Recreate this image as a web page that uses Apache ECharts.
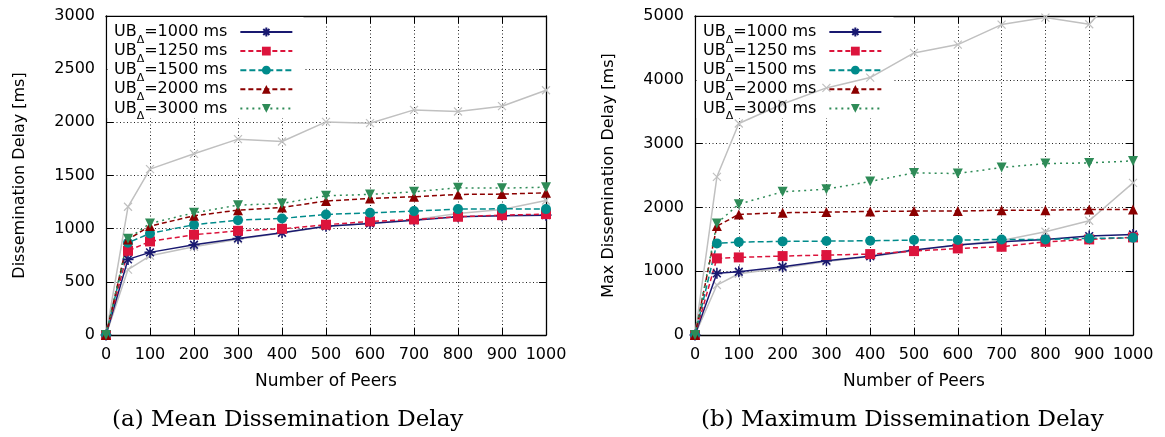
<!DOCTYPE html>
<html>
<head>
<meta charset="utf-8">
<script src="https://cdn.jsdelivr.net/npm/echarts@6/dist/echarts.min.js"></script>
<style>
  html, body { margin: 0; padding: 0; background: #fff; }
  #chart { width: 1165px; height: 437px; }
</style>
</head>
<body>
<div id="chart"></div>
<script>
// Network sizes (x axis) and update-budget settings
const peers = [0, 50, 100, 200, 300, 400, 500, 600, 700, 800, 900, 1000];
const budgets = [1000, 1250, 1500, 2000, 3000];

// (a) Mean dissemination delay [ms]
const mean1000 = [0, 711, 777, 849, 908, 961, 1022, 1049, 1080, 1112, 1121, 1127];
const mean1250 = [0, 792, 880, 943, 980, 999, 1037, 1068, 1087, 1112, 1127, 1137];
const mean1500 = [0, 868, 955, 1037, 1080, 1096, 1134, 1149, 1165, 1184, 1187, 1184];
const mean2000 = [0, 899, 1024, 1121, 1174, 1199, 1260, 1284, 1300, 1322, 1325, 1337];
const mean3000 = [0, 905, 1049, 1149, 1221, 1237, 1309, 1322, 1347, 1384, 1381, 1390];
const meanBaseHigh = [0, 1206, 1560, 1704, 1842, 1820, 2004, 1992, 2117, 2102, 2152, 2302];
const meanBaseLow = [0, 615, 745, 830, 900, 960, 1020, 1050, 1085, 1143, 1181, 1265];

// (b) Maximum dissemination delay [ms]
const max1000 = [0, 966, 992, 1070, 1164, 1235, 1331, 1409, 1461, 1498, 1550, 1576];
const max1250 = [0, 1201, 1216, 1237, 1253, 1268, 1315, 1357, 1383, 1461, 1498, 1530];
const max1500 = [0, 1436, 1456, 1467, 1472, 1477, 1488, 1488, 1498, 1498, 1514, 1524];
const max2000 = [0, 1707, 1890, 1916, 1926, 1937, 1942, 1942, 1957, 1957, 1968, 1968];
const max3000 = [0, 1749, 2051, 2244, 2286, 2406, 2541, 2531, 2625, 2687, 2697, 2729];
const maxBaseHigh = [0, 2479, 3315, 3620, 3873, 4035, 4421, 4552, 4865, 4975, 4870, 5620];
const maxBaseLow = [0, 783, 960, 1050, 1150, 1230, 1320, 1410, 1480, 1618, 1790, 2385];

const yTitles = ['Dissemination Delay [ms]', 'Max Dissemination Delay [ms]'];
const xTitle = 'Number of Peers';
const captions = ['(a) Mean Dissemination Delay', '(b) Maximum Dissemination Delay'];

const FONT = 'DejaVu Sans';
const ASTERISK = 'path://M0,5L10,5M5,0L5,10M1.5,1.5L8.5,8.5M8.5,1.5L1.5,8.5';
const CROSS = 'path://M0,0L10,10M10,0L0,10';

const budgetStyles = {
  1000: { color: '#191970', dash: 'solid', symbol: ASTERISK, size: 11, rotate: 0, border: 1.6 },
  1250: { color: '#dc143c', dash: [5, 3], symbol: 'rect', size: 10, rotate: 0, border: 0 },
  1500: { color: '#008b8b', dash: [6, 3], symbol: 'circle', size: 10, rotate: 0, border: 0 },
  2000: { color: '#8b0000', dash: [5, 3], symbol: 'triangle', size: 10, rotate: 0, border: 0 },
  3000: { color: '#2e8b57', dash: [2, 4], symbol: 'triangle', size: 10, rotate: 180, border: 0 }
};

const seriesName = b => 'UBΔ=' + b + ' ms';
const pairs = v => peers.map((p, i) => [p, v[i]]);

function budgetSeries(b, values, gi) {
  const s = budgetStyles[b];
  return {
    name: seriesName(b), type: 'line', xAxisIndex: gi * 2, yAxisIndex: gi * 2,
    data: pairs(values), symbol: s.symbol, symbolSize: s.size, symbolRotate: s.rotate,
    showSymbol: true, z: 3,
    lineStyle: { color: s.color, width: 1.5, type: s.dash },
    itemStyle: { color: s.color, borderColor: s.color, borderWidth: s.border }
  };
}
function baseSeries(name, values, gi) {
  return {
    name: name, type: 'line', xAxisIndex: gi * 2, yAxisIndex: gi * 2,
    data: pairs(values), symbol: CROSS, symbolSize: 8, z: 2,
    lineStyle: { color: '#c0c0c0', width: 1.5 },
    itemStyle: { color: '#c0c0c0', borderColor: '#c0c0c0', borderWidth: 1.2 }
  };
}

const gridPos = [
  { left: 106, top: 16, width: 440, height: 319 },
  { left: 695, top: 16, width: 438, height: 319 }
];
const yRange = [{ max: 3000, interval: 500 }, { max: 5000, interval: 1000 }];

const tick = { show: true, inside: true, length: 7, lineStyle: { color: '#000', width: 1 } };
const axisLine = { show: true, onZero: false, lineStyle: { color: '#000', width: 1.3 } };
const gridLine = { show: true, lineStyle: { color: '#222', width: 1, type: [1, 2.5] } };
const plain = v => String(v);

const xAxes = [], yAxes = [], series = [], legends = [], graphics = [], titles = [];
[0, 1].forEach(gi => {
  xAxes.push({
    type: 'value', gridIndex: gi, min: 0, max: 1000, interval: 100, position: 'bottom',
    axisLine, axisTick: tick, splitLine: gridLine,
    axisLabel: { fontFamily: FONT, fontSize: 16, color: '#000', margin: 12, formatter: plain },
    name: xTitle, nameLocation: 'middle', nameGap: 38,
    nameTextStyle: { fontFamily: FONT, fontSize: 17, color: '#000' }
  });
  xAxes.push({
    type: 'value', gridIndex: gi, min: 0, max: 1000, interval: 100, position: 'top',
    axisLine, axisTick: tick, splitLine: { show: false }, axisLabel: { show: false }
  });
  yAxes.push({
    type: 'value', gridIndex: gi, min: 0, max: yRange[gi].max, interval: yRange[gi].interval,
    position: 'left', axisLine, axisTick: tick, splitLine: gridLine,
    axisLabel: { fontFamily: FONT, fontSize: 16, color: '#000', margin: 11, formatter: plain },
    name: yTitles[gi], nameLocation: 'middle', nameRotate: 90, nameGap: 78,
    nameTextStyle: { fontFamily: FONT, fontSize: 16, color: '#000' }
  });
  yAxes.push({
    type: 'value', gridIndex: gi, min: 0, max: yRange[gi].max, interval: yRange[gi].interval,
    position: 'right', axisLine, axisTick: tick, splitLine: { show: false }, axisLabel: { show: false }
  });

  const left = gridPos[gi].left;
  legends.push({
    orient: 'vertical', align: 'right', left: left + 3, top: 18,
    itemWidth: 52, itemHeight: 11, itemGap: -3.4, selectedMode: false,
    data: budgets.map(seriesName),
    formatter: name => {
      const rest = name.replace('UBΔ', '');
      return '{u|UB}{d|Δ}{u|' + rest + '}{g| }';
    },
    textStyle: {
      fontFamily: FONT, fontSize: 16, color: '#000', lineHeight: 18,
      rich: {
        u: { fontFamily: FONT, fontSize: 16, lineHeight: 18, color: '#000' },
        d: { fontFamily: FONT, fontSize: 11, lineHeight: 12, color: '#000', padding: [8, 0, -8, 0] },
        g: { fontFamily: FONT, fontSize: 16, lineHeight: 18, width: 8 }
      }
    }
  });
  // white key box hiding the grid behind the key entries
  graphics.push({
    type: 'rect', z: 1, silent: true,
    shape: { x: left + 1.5, y: 17, width: gi === 0 ? 196 : 197, height: 101 },
    style: { fill: '#fff' }
  });
  titles.push({
    text: captions[gi], left: left + 1, top: 404,
    textStyle: { fontFamily: 'DejaVu Serif', fontSize: 23, fontWeight: 'normal', color: '#000' }
  });
});

series.push(baseSeries('baselineHigh', meanBaseHigh, 0));
series.push(baseSeries('baselineLow', meanBaseLow, 0));
[mean1000, mean1250, mean1500, mean2000, mean3000].forEach((v, i) => series.push(budgetSeries(budgets[i], v, 0)));
series.push(baseSeries('baselineHigh', maxBaseHigh, 1));
series.push(baseSeries('baselineLow', maxBaseLow, 1));
[max1000, max1250, max1500, max2000, max3000].forEach((v, i) => series.push(budgetSeries(budgets[i], v, 1)));

const chart = echarts.init(document.getElementById('chart'), null, { renderer: 'canvas' });
chart.setOption({
  animation: false,
  backgroundColor: '#fff',
  title: titles,
  grid: gridPos,
  xAxis: xAxes,
  yAxis: yAxes,
  legend: legends,
  graphic: { elements: graphics },
  series: series
});
</script>
</body>
</html>
